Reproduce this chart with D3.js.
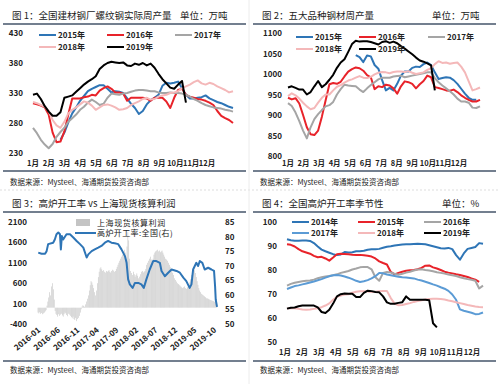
<!DOCTYPE html>
<html>
<head>
<meta charset="utf-8">
<script src="https://cdn.jsdelivr.net/npm/d3@7"></script>
<style>
body { margin: 0; background: #fff; }
svg text { font-family: "Noto Sans CJK SC", "Noto Sans", sans-serif; fill: #222; }
</style>
</head>
<body>
<script>
const MONTHS = ["1月","2月","3月","4月","5月","6月","7月","8月","9月","10月","11月","12月"];

// fig 1: rebar weekly output (10k t), weekly index 0..51
const rebar2015 = [null,null,null,null,null,null,null,252,264,281,296,306,317,325,333,337,340,343,343,337,331,333,332,330,321,312,305,295,300,311,318,322,327,342,347,346,347,349,338,327,321,321,322,323,326,321,318,315,313,310,307,305];
const rebar2016 = [313,311,309,306,294,264,248,249,266,294,321,321,321,323,324,327,326,334,338,341,337,331,331,329,317,322,322,322,322,321,317,322,322,322,316,305,322,335,337,327,324,322,320,319,317,314,310,300,292,288,285,280];
const rebar2017 = [272,263,252,244,238,245,257,265,272,282,288,294,302,307,314,319,315,310,312,322,329,328,327,329,330,332,334,335,335,334,333,333,331,330,330,331,330,330,329,327,324,320,317,313,310,308,306,305,304,302,301,299];
const rebar2018 = [315,313,310,307,300,285,276,272,282,296,302,306,311,316,314,309,302,306,310,311,309,306,302,303,305,310,313,316,320,322,319,320,324,326,327,330,331,333,338,341,344,348,351,346,344,347,345,341,338,335,331,333];
const rebar2019 = [327,329,320,308,299,292,292,298,322,324,326,332,338,344,349,353,358,370,376,380,382,381,380,381,376,375,379,377,380,376,379,372,362,353,346,339,337,344,350,314];
const rebarTicks = [230,280,330,380,430];

// fig 2: five major steel products weekly output
const steel2015 = [null,null,null,null,null,null,null,null,null,null,null,null,null,null,null,null,null,null,1046,1041,1029,1045,1043,1022,1013,985,960,966,960,976,996,1006,1006,1015,1018,1017,1024,1028,1022,1004,988,990,992,991,985,976,964,952,942,937,937];
const steel2016 = [942,938,941,928,900,870,853,851,862,896,936,975,978,976,981,994,1006,1012,1016,1014,1008,997,992,963,970,968,974,972,965,952,970,982,980,976,965,975,983,996,992,968,966,963,960,959,962,956,948,942,937,933,933,937];
const steel2017 = [929,922,906,885,862,843,870,890,902,912,921,924,932,950,963,974,972,971,970,962,956,965,973,980,987,991,991,991,994,995,996,992,994,996,998,1000,1002,1004,1004,990,980,972,965,958,950,940,933,933,930,918,917,921];
const steel2018 = [946,953,948,940,930,921,914,917,930,942,950,950,960,969,973,979,984,987,991,995,991,990,993,999,1003,1005,1004,1002,1005,1006,1006,1005,1007,1003,1000,1002,1004,1010,1014,1024,1031,1027,1028,1025,1027,1028,1018,1004,982,960,963,967];
const steel2019 = [967,970,966,962,962,950,956,970,983,968,975,986,998,1015,1028,1036,1054,1073,1081,1079,1080,1080,1078,1075,1072,1078,1080,1076,1079,1075,1068,1062,1055,1048,1040,1033,1030,1026,1021,960];
const steelTicks = [800,850,900,950,1000,1050,1100];

// fig 3: Shanghai spot profit (weekly from 2016-01-01) and blast furnace rate
const profitStart = "2016-01-01";
const profit = [
  -120,-140,-110,-150,-130,-160,-140,-120,-90,-60,50,150,250,
  380,300,520,600,450,200,-80,-150,-180,-220,-160,-200,-170,
  -150,-190,-220,-160,-120,-140,-180,-210,-150,-170,-200,-230,-260,
  -220,-280,-300,-250,-330,-280,-250,-200,-120,-40,30,60,40,
  20,80,150,220,300,420,550,650,620,560,480,380,300,
  420,600,750,880,960,990,940,900,920,880,860,900,880,
  900,920,880,860,900,930,910,880,900,950,1000,1050,1100,
  1150,1200,1250,1300,1380,1420,1350,1200,1500,1850,1650,1200,900,
  850,800,880,820,760,800,840,780,720,760,820,880,900,
  860,880,900,950,1050,1100,1150,1200,1250,1180,1150,1200,1300,
  1350,1380,1400,1420,1380,1400,1360,1380,1400,1350,1300,1250,1200,
  1180,1150,1100,1050,1000,950,900,850,800,720,680,640,600,
  580,560,540,520,500,480,500,520,480,460,500,520,560,
  620,700,800,900,950,920,850,750,650,560,480,420,380,
  340,320,300,280,260,240,220,230,210,200,190,180,170,
  160,150,140,120,100
];
const rateDates = ["2016-01-03","2016-01-29","2016-02-25","2016-03-08","2016-03-20","2016-04-28","2016-05-11","2016-05-24","2016-06-07","2016-06-20","2016-06-27","2016-07-05","2016-07-15","2016-08-10","2016-09-06","2016-10-02","2016-10-28","2016-11-23","2016-12-19","2017-01-14","2017-01-27","2017-02-22","2017-03-18","2017-04-14","2017-05-09","2017-06-05","2017-06-30","2017-07-26","2017-08-21","2017-09-17","2017-10-12","2017-11-08","2017-11-21","2017-12-03","2017-12-16","2018-01-07","2018-01-25","2018-02-20","2018-03-16","2018-04-04","2018-04-24","2018-05-20","2018-06-16","2018-07-11","2018-08-07","2018-08-20","2018-09-15","2018-10-11","2018-11-06","2018-12-15","2019-01-10","2019-02-06","2019-03-01","2019-03-27","2019-04-10","2019-04-23","2019-05-18","2019-06-01","2019-06-14","2019-07-04","2019-07-22","2019-08-18","2019-09-13","2019-10-03","2019-10-11","2019-10-16","2019-10-26"];
const rateValues = [74.5,74.1,74.1,75,77.4,77.9,79,80.8,81.4,80.8,75.6,80.2,79,80.8,80.8,79.7,78.5,77.4,76.2,72.8,73.9,75,75.6,76.2,76.8,77.9,78.5,77.9,77.7,77.4,75.6,73.3,71,65.3,63.6,62.4,64.1,64.1,63.6,62.4,65.3,68.7,71.6,71.6,71,68.2,66.4,67.6,68.7,68.2,67.6,65.9,64.7,62.4,63.6,68.7,71,69.9,71.6,71,68.7,69.3,68.7,68.2,63,58.4,55.9];
const dateTicks = ["2016-01","2016-06","2016-11","2017-04","2017-09","2018-02","2018-07","2018-12","2019-05","2019-10"];
const profitTicks = [-400,100,600,1100,1600,2100];
const rateTicks = [50,55,60,65,70,75,80,85];

// fig 4: blast furnace rate seasonality
const bf2014 = [92.8,92.4,92.2,92.2,92.3,92.3,92.1,91.2,89.8,88.5,87.8,87.2,86.6,86.2,86.5,87.5,87.3,87.4,87.8,87.8,88.0,88.4,88.6,88.6,88.8,89.3,89.7,89.9,90.2,90.4,90.6,90.7,90.7,90.8,90.9,90.8,90.7,90.3,89.9,89.5,89.1,89.0,89.2,88.7,86.2,84.3,86.9,88.8,89.2,89.6,91.2,90.9];
const bf2015 = [90.7,90.5,89.8,88.7,87.8,87.3,86.8,85.9,85.3,85.5,84.8,83.9,85.2,86.6,86.8,86.7,86.6,86.4,86.3,86.3,86.1,85.9,85.6,84.8,83.6,82.9,82.3,79.2,78.2,78.8,79.3,79.7,79.9,80.0,80.3,80.9,81.8,81.9,81.1,80.6,80.0,79.3,78.9,78.6,78.2,77.9,77.5,77.1,76.5,76.0,75.1];
const bf2016 = [73.5,74.2,74.7,75.0,75.3,75.5,75.6,76.0,76.6,77.0,77.3,77.5,77.8,78.2,78.8,79.2,79.6,80.2,80.6,81.1,81.3,81.2,80.3,77.0,75.5,78.8,79.2,79.0,78.4,78.0,78.4,78.9,79.3,79.8,80.2,80.3,80.0,79.8,79.5,79.1,78.8,78.5,78.1,77.8,77.5,77.0,76.6,76.2,75.9,75.5,72.3,73.5];
const bf2017 = [72.1,72.7,73.3,73.6,74.0,74.4,74.8,75.2,75.7,76.2,76.8,77.4,77.8,77.9,77.7,77.3,76.8,76.2,75.5,75.0,75.3,75.8,76.5,77.4,78.8,78.6,78.1,77.8,77.5,77.2,77.0,76.9,76.7,76.5,76.0,75.6,75.1,74.6,74.0,73.5,72.8,72.2,71.3,69.8,67.6,63.6,63.0,62.6,62.2,61.6,61.7,62.3];
const bf2018 = [63.9,64.2,64.1,63.8,63.5,63.4,63.5,63.8,64.1,64.5,65.2,66.1,67.6,68.8,69.4,69.8,69.9,70.5,70.9,71.1,71.1,71.0,70.8,70.9,71.1,71.3,71.3,68.3,66.0,65.3,65.4,65.8,66.2,66.7,67.1,67.4,67.7,67.9,68.0,68.0,67.9,67.7,67.3,67.0,66.6,66.2,65.8,65.4,65.1,64.8,64.6,64.5];
const bf2019 = [63.9,64.3,64.4,64.9,65.2,65.2,65.2,65.2,64.4,62.5,62.1,63.4,66.0,69.0,69.9,70.2,70.1,70.1,68.7,68.7,70.5,71.4,71.2,70.8,70.7,69.0,66.5,65.9,65.9,66.3,66.6,69.0,67.6,67.6,67.6,67.6,67.6,67.4,57.8,56.1];
const bfTicks = [50,60,70,80,90,100];

const BLUE = "#2e75b6", RED = "#e8232a", GRAY = "#a5a5a5",
      PINK = "#f4b8b9", BLACK = "#000", LIGHTBLUE = "#5b9bd5";
const RULE = "#44546a";

let svg = d3.select("body").append("svg")
  .attr("width", 500)
  .attr("height", 384);

// panel frames: titles, rules and source notes
let frames = [
  {x: 0,   title: "图 1：全国建材钢厂螺纹钢实际周产量", unit: "单位：万吨", unitX: 180, ty: 19,  rule: 24,  foot: 171, src: 185},
  {x: 250, title: "图 2：五大品种钢材周产量",          unit: "单位：万吨", unitX: 432, ty: 19,  rule: 24,  foot: 171, src: 185},
  {x: 0,   title: "图 3：高炉开工率 vs 上海现货核算利润", unit: "",         unitX: 0,   ty: 207, rule: 212, foot: 361, src: 373},
  {x: 250, title: "图 4：全国高炉开工率季节性",        unit: "单位：%",    unitX: 442, ty: 207, rule: 212, foot: 361, src: 373}
];

svg.append("line")
  .attr("x1", 0).attr("x2", 500).attr("y1", 190).attr("y2", 190)
  .style("stroke", "#ddd").style("stroke-dasharray", "2,2");
svg.append("line")
  .attr("x1", 249).attr("x2", 249).attr("y1", 0).attr("y2", 384)
  .style("stroke", "#ececec");

frames.forEach(f => {
  svg.append("text")
    .attr("x", f.x + 12).attr("y", f.ty)
    .style("font-size", "9.5px")
    .text(f.title);
  if (f.unit) {
    svg.append("text")
      .attr("x", f.unitX).attr("y", f.ty)
      .style("font-size", "9.5px")
      .text(f.unit);
  }
  svg.append("line")
    .attr("x1", f.x + 3).attr("x2", f.x + 246)
    .attr("y1", f.rule).attr("y2", f.rule)
    .style("stroke", RULE).style("stroke-width", 1.5);
  svg.append("line")
    .attr("x1", f.x + 3).attr("x2", f.x + 246)
    .attr("y1", f.foot).attr("y2", f.foot)
    .style("stroke", RULE).style("stroke-width", 1.5);
  svg.append("text")
    .attr("x", f.x + 10).attr("y", f.src)
    .style("font-size", "7.5px")
    .text("数据来源：Mysteel、海通期货投资咨询部");
});

// seasonal line panels (fig 1, 2, 4)
function seasonal(cfg) {
  let x = d3.scaleLinear().domain([0, 51]).range(cfg.xRange);
  let y = d3.scaleLinear().domain(d3.extent(cfg.yTicks)).range(cfg.yRange);
  let m = d3.scalePoint().domain(MONTHS).range(cfg.mRange);
  let g = svg.append("g");

  g.selectAll(".ylab")
    .data(cfg.yTicks)
  .enter().append("text")
    .attr("class", "ylab")
    .attr("x", cfg.yLabelX)
    .attr("y", d => y(d) + 3)
    .attr("text-anchor", "end")
    .style("font-size", "8px")
    .style("font-weight", "bold")
    .text(d => d);

  g.selectAll(".mlab")
    .data(MONTHS)
  .enter().append("text")
    .attr("class", "mlab")
    .attr("x", d => m(d))
    .attr("y", cfg.mY)
    .attr("text-anchor", "middle")
    .style("font-size", "7.5px")
    .style("font-weight", "bold")
    .text(d => d);

  let line = d3.line()
    .defined(d => d != null)
    .x((d, i) => x(i))
    .y(d => y(d));

  cfg.series.forEach(s => {
    g.append("path")
      .datum(s.values)
      .attr("d", line)
      .style("fill", "none")
      .style("stroke", s.color)
      .style("stroke-width", 2)
      .style("stroke-linejoin", "round");
  });

  // legend: 3 columns, 2 rows
  cfg.series.forEach((s, i) => {
    let lx = cfg.legendX[i % 3],
        ly = cfg.legendY[Math.floor(i / 3)];
    g.append("line")
      .attr("x1", lx).attr("x2", lx + 17)
      .attr("y1", ly).attr("y2", ly)
      .style("stroke", s.color).style("stroke-width", 2);
    g.append("text")
      .attr("x", lx + 19).attr("y", ly + 3)
      .style("font-size", "8px")
      .style("font-weight", "bold")
      .text(s.name);
  });
}

seasonal({
  xRange: [33, 233], yRange: [153, 33], mRange: [33, 207], mY: 166,
  yTicks: rebarTicks, yLabelX: 23,
  legendX: [39, 107, 175], legendY: [35, 47],
  series: [
    {name: "2015年", values: rebar2015, color: BLUE},
    {name: "2016年", values: rebar2016, color: RED},
    {name: "2017年", values: rebar2017, color: GRAY},
    {name: "2018年", values: rebar2018, color: PINK},
    {name: "2019年", values: rebar2019, color: BLACK}
  ]
});

seasonal({
  xRange: [288, 480], yRange: [156, 33], mRange: [288, 459], mY: 166,
  yTicks: steelTicks, yLabelX: 282,
  legendX: [296, 359, 428], legendY: [37, 49],
  series: [
    {name: "2015年", values: steel2015, color: BLUE},
    {name: "2016年", values: steel2016, color: RED},
    {name: "2017年", values: steel2017, color: GRAY},
    {name: "2018年", values: steel2018, color: PINK},
    {name: "2019年", values: steel2019, color: BLACK}
  ]
});

seasonal({
  xRange: [287, 483], yRange: [342, 222], mRange: [285, 472], mY: 355,
  yTicks: bfTicks, yLabelX: 277,
  legendX: [292, 358, 424], legendY: [222, 233],
  series: [
    {name: "2014年", values: bf2014, color: BLUE},
    {name: "2015年", values: bf2015, color: RED},
    {name: "2016年", values: bf2016, color: GRAY},
    {name: "2017年", values: bf2017, color: LIGHTBLUE},
    {name: "2018年", values: bf2018, color: PINK},
    {name: "2019年", values: bf2019, color: BLACK}
  ]
});

// fig 3: profit bars (left) + blast furnace rate (right)
let parseDay = d3.timeParse("%Y-%m-%d"),
    parseMonth = d3.timeParse("%Y-%m");
let start = parseDay(profitStart);

let x3 = d3.scaleTime()
  .domain([start, parseDay("2019-10-26")])
  .range([38, 217]);
let yL = d3.scaleLinear().domain([-400, 2100]).range([324, 222]);
let yR = d3.scaleLinear().domain([50, 85]).range([324, 222]);

let g3 = svg.append("g");

g3.selectAll(".bar")
  .data(profit)
.enter().append("rect")
  .attr("class", "bar")
  .attr("x", (d, i) => x3(d3.timeWeek.offset(start, i)) - 0.25)
  .attr("width", 0.5)
  .attr("y", d => Math.min(yL(d), yL(0)))
  .attr("height", d => Math.abs(yL(d) - yL(0)))
  .style("fill", "#b8b8b8");

let rateLine = d3.line()
  .x((d, i) => x3(parseDay(rateDates[i])))
  .y(d => yR(d));

g3.append("path")
  .datum(rateValues)
  .attr("d", rateLine)
  .style("fill", "none")
  .style("stroke", BLUE)
  .style("stroke-width", 2)
  .style("stroke-linejoin", "round");

g3.selectAll(".yl")
  .data(profitTicks)
.enter().append("text")
  .attr("x", 27)
  .attr("y", d => yL(d) + 3)
  .attr("text-anchor", "end")
  .style("font-size", "8px")
  .style("font-weight", "bold")
  .text(d => d);

g3.selectAll(".yr")
  .data(rateTicks)
.enter().append("text")
  .attr("x", 225)
  .attr("y", d => yR(d) + 3)
  .style("font-size", "8px")
  .style("font-weight", "bold")
  .text(d => d);

g3.selectAll(".xl")
  .data(dateTicks)
.enter().append("text")
  .attr("text-anchor", "end")
  .attr("transform", d => "translate(" + (x3(parseMonth(d)) + 3) + ",331) rotate(-40)")
  .style("font-size", "8px")
  .style("font-weight", "bold")
  .text(d => d);

// fig 3 legend
g3.append("rect")
  .attr("x", 76).attr("y", 219).attr("width", 14).attr("height", 7)
  .style("fill", "#c4c4c4");
g3.append("text")
  .attr("x", 97).attr("y", 226)
  .style("font-size", "8px")
  .style("letter-spacing", "0.6px")
  .text("上海现货核算利润");
g3.append("line")
  .attr("x1", 75).attr("x2", 96).attr("y1", 233).attr("y2", 233)
  .style("stroke", BLUE).style("stroke-width", 2);
g3.append("text")
  .attr("x", 97).attr("y", 236)
  .style("font-size", "8px")
  .style("letter-spacing", "0.4px")
  .text("高炉开工率:全国(右)");
</script>
</body>
</html>
